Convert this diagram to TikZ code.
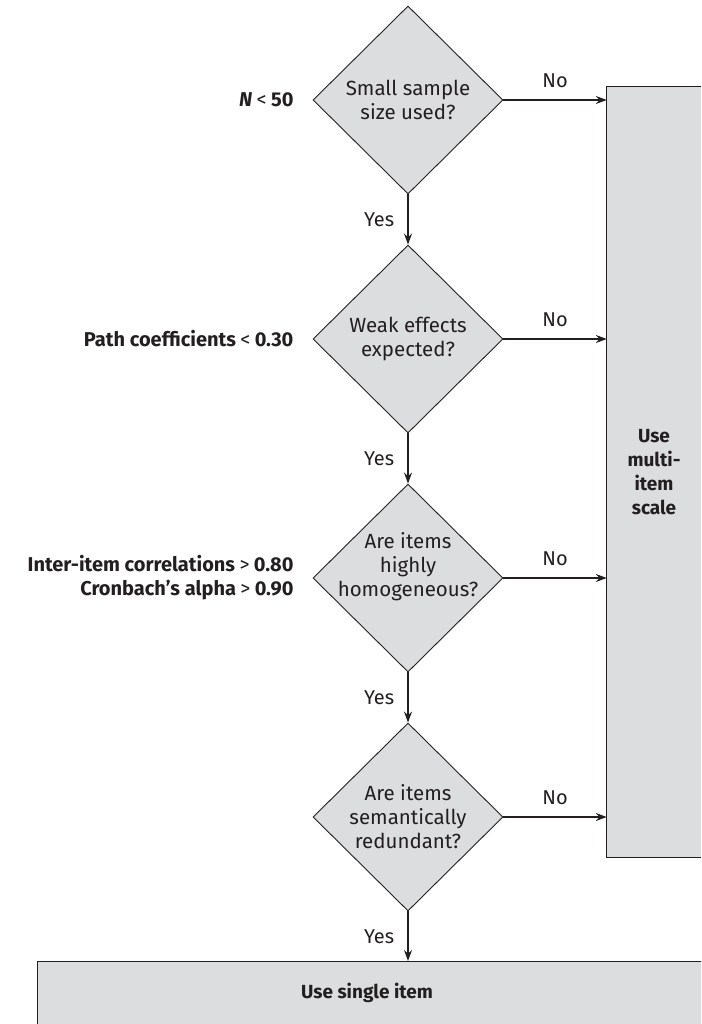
\documentclass[tikz,border=0pt]{standalone}
\usepackage{fontspec}
\setmainfont{Fira Sans}
\usetikzlibrary{shapes.geometric,arrows.meta}
\definecolor{boxgray}{RGB}{220,221,223}
\definecolor{ink}{RGB}{35,31,32}
\newcommand{\rel}[1]{\hspace{0.22em}{\mdseries #1}\hspace{0.22em}}
\begin{document}
\begin{tikzpicture}[x=1pt,y=-1pt,
  every node/.style={text=ink},
  decision/.style={diamond,draw=ink,line width=0.9pt,fill=boxgray,
    minimum width=190pt,minimum height=188pt,inner sep=0pt},
  dtext/.style={align=center,font=\fontsize{20.5}{24}\selectfont},
  lbl/.style={font=\fontsize{20}{24}\selectfont},
  side/.style={align=right,anchor=east,font=\fontsize{20}{24}\selectfont\bfseries},
  outbox/.style={rectangle,fill=boxgray,inner sep=0pt,align=center,
    font=\fontsize{19}{24}\selectfont\bfseries},
  arr/.style={draw=ink,line width=1.1pt,-{Stealth[length=11pt,width=8pt]}},
  edge/.style={draw=ink,line width=1pt}]
\clip (0,0) rectangle (701,1024);

% outcome boxes (run off the page edges)
\node[outbox,minimum width=94pt,minimum height=770pt] (multi) at (654,472)
  {Use\\multi-\\item\\scale};
\draw[edge] (multi.north east) -- (multi.north west) -- (multi.south west) -- (multi.south east);
\node[outbox,minimum width=680pt,minimum height=70pt,anchor=north west] (single) at (37,961) {};
\node[outbox] (singlet) at (367,993) {Use single item};
\draw[edge] (single.south west) -- (single.north west) -- (single.north east);

% decisions
\node[decision] (d1) at (408,100) {};
\node[dtext] (d1t) at (408,100) {Small sample\\size used?};
\node[decision] (d2) at (408,339) {};
\node[dtext] (d2t) at (408,339) {Weak effects\\expected?};
\node[decision] (d3) at (408,578) {};
\node[dtext] (d3t) at (408,567) {Are items\\highly\\homogeneous?};
\node[decision] (d4) at (408,817) {};
\node[dtext] (d4t) at (408,817) {Are items\\semantically\\redundant?};

% thresholds
\node[side] (c1) at (297,100) {\textit{N}\rel{<}50};
\node[side] (c2) at (297,339) {Path coefficients\rel{<}0.30};
\node[side] (c3) at (297,578) {Inter-item correlations\rel{>}0.80\\Cronbach’s alpha\rel{>}0.90};

% yes branches
\draw[arr] (d1.south) -- node[lbl,left=10pt] {Yes} (d2.north);
\draw[arr] (d2.south) -- node[lbl,left=10pt] {Yes} (d3.north);
\draw[arr] (d3.south) -- node[lbl,left=10pt] {Yes} (d4.north);
\draw[arr] (d4.south) -- node[lbl,left=10pt] {Yes} (d4.south |- single.north);

% no branches
\draw[arr] (d1.east) -- node[lbl,above=8pt] {No} (d1.east -| multi.west);
\draw[arr] (d2.east) -- node[lbl,above=8pt] {No} (d2.east -| multi.west);
\draw[arr] (d3.east) -- node[lbl,above=8pt] {No} (d3.east -| multi.west);
\draw[arr] (d4.east) -- node[lbl,above=8pt] {No} (d4.east -| multi.west);
\end{tikzpicture}
\end{document}
